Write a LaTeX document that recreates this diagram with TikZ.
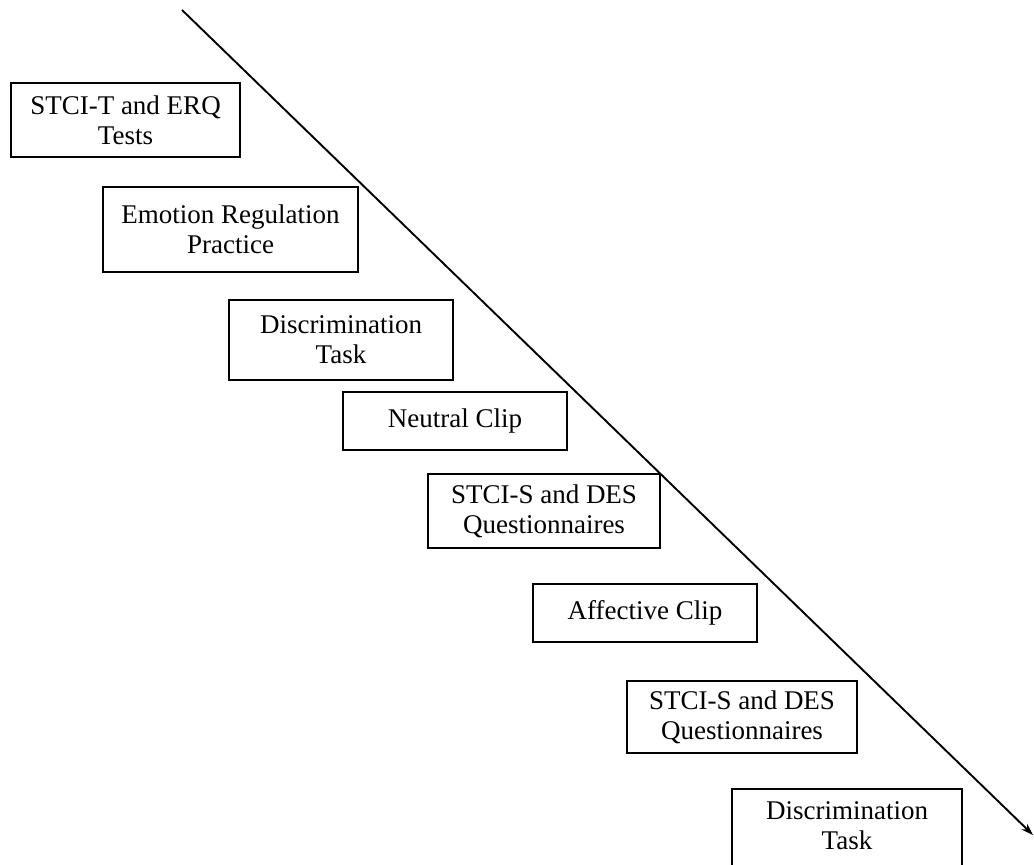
\documentclass[tikz,border=0pt]{standalone}
\usepackage{fontspec}
\setmainfont{Liberation Serif}
\usetikzlibrary{arrows.meta}
\begin{document}
\begin{tikzpicture}[x=1pt,y=-1pt,
  stagebox/.style={draw, line width=1.6pt, fill=white, inner sep=0pt,
    align=center, font=\fontsize{27}{30}\selectfont},
  stagetext/.style={inner sep=0pt, align=center, font=\fontsize{27}{30}\selectfont},
  timeline/.style={line width=1.9pt, -{Stealth[length=12pt,width=8pt]}}]
\useasboundingbox (0,0) rectangle (1034,865);
\clip (0,0) rectangle (1034,865);

% time axis running from top left to bottom right
\coordinate (tstart) at (182,10);
\coordinate (tend) at (1033,835);
\draw[timeline] (tstart) -- (tend);

% procedure stages
\node[stagebox, minimum width=229pt, minimum height=74pt] (tests) at (125.5,120) {STCI-T and ERQ\\Tests};
\node[stagebox, minimum width=255pt, minimum height=85pt] (practice) at (230.5,229.5) {Emotion Regulation\\Practice};
\node[stagebox, minimum width=224pt, minimum height=80pt] (disc1) at (341,340) {Discrimination\\Task};
\node[stagebox, minimum width=224pt, minimum height=58pt] (neutral) at (455,421) {Neutral Clip};
\node[stagebox, minimum width=232pt, minimum height=74pt] (quest1) at (544,511) {STCI-S and DES\\Questionnaires};
\node[stagebox, minimum width=224pt, minimum height=58pt] (affective) at (645,613) {Affective Clip};
\node[stagebox, minimum width=230pt, minimum height=72pt] (quest2) at (742,717) {STCI-S and DES\\Questionnaires};

% last stage runs past the lower edge
\node[stagebox, minimum width=230pt, minimum height=100pt, anchor=north] (disc2box) at (847,788) {};
\node[stagetext] (disc2) at (847,826) {Discrimination\\Task};
\end{tikzpicture}
\end{document}
